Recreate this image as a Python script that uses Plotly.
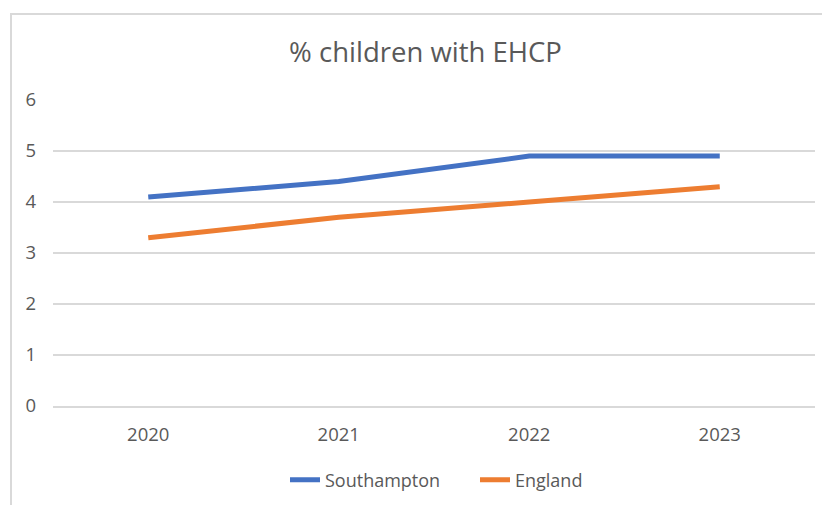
import plotly.graph_objects as go

years = ["2020", "2021", "2022", "2023"]
southampton = [4.1, 4.4, 4.9, 4.9]
england = [3.3, 3.7, 4.0, 4.3]
title_text = "% children with EHCP"

# page body has an 8px margin, so the figure starts at (8, 8) in the window
OFF = 8
W, H = 830 - OFF, 505 - OFF
L = 53 - OFF
R = 830 - 815
T = 100 - OFF
B = 505 - 406
pw, ph = W - L - R, H - T - B

def px_x(x):
    return (x - OFF - L) / pw

def px_y(y):
    return (H - B - (y - OFF)) / ph

def cx(x):
    return (x - OFF) / W

def cy(y):
    return 1 - (y - OFF) / H

font_fam = "Open Sans, Noto Sans, sans-serif"
grey = "#595959"

fig = go.Figure()
fig.add_trace(go.Scatter(x=years, y=southampton, name="Southampton", mode="lines",
                         line=dict(color="#4472C4", width=5)))
fig.add_trace(go.Scatter(x=years, y=england, name="England", mode="lines",
                         line=dict(color="#ED7D31", width=5)))

fig.update_layout(
    width=W, height=H,
    margin=dict(l=L, r=R, t=T, b=B, autoexpand=False),
    paper_bgcolor="white", plot_bgcolor="white",
    font=dict(family=font_fam, color=grey, size=18),
    title=dict(text=title_text, x=px_x(425.5), xref="paper", xanchor="center",
               y=1 - (52 - OFF) / H, yanchor="middle",
               font=dict(size=27.5, color=grey, family=font_fam)),
    showlegend=True,
    legend=dict(orientation="h", xref="container", yref="container",
                x=cx(285), xanchor="left", y=cy(480), yanchor="middle",
                entrywidth=145, entrywidthmode="pixels",
                font=dict(size=18, color=grey), tracegroupgap=0),
    xaxis=dict(type="category", range=[-0.5, 3.5], showgrid=False, showline=True,
               linecolor="#D9D9D9", linewidth=1.5, ticks="", ticklabelstandoff=11,
               tickfont=dict(size=18.5, color=grey), zeroline=False, automargin=False),
    yaxis=dict(range=[0, 6], dtick=1, showgrid=True, gridcolor="#D9D9D9", gridwidth=1.5,
               zeroline=False, ticks="", ticklabelstandoff=16,
               tickfont=dict(size=18.5, color=grey), showline=False, automargin=False),
    shapes=[dict(type="rect", xref="paper", yref="paper",
                 x0=px_x(11), x1=px_x(850), y0=px_y(530), y1=px_y(14),
                 line=dict(color="#D9D9D9", width=2), fillcolor="rgba(0,0,0,0)", layer="below")],
)

fig.write_html("out.html")
